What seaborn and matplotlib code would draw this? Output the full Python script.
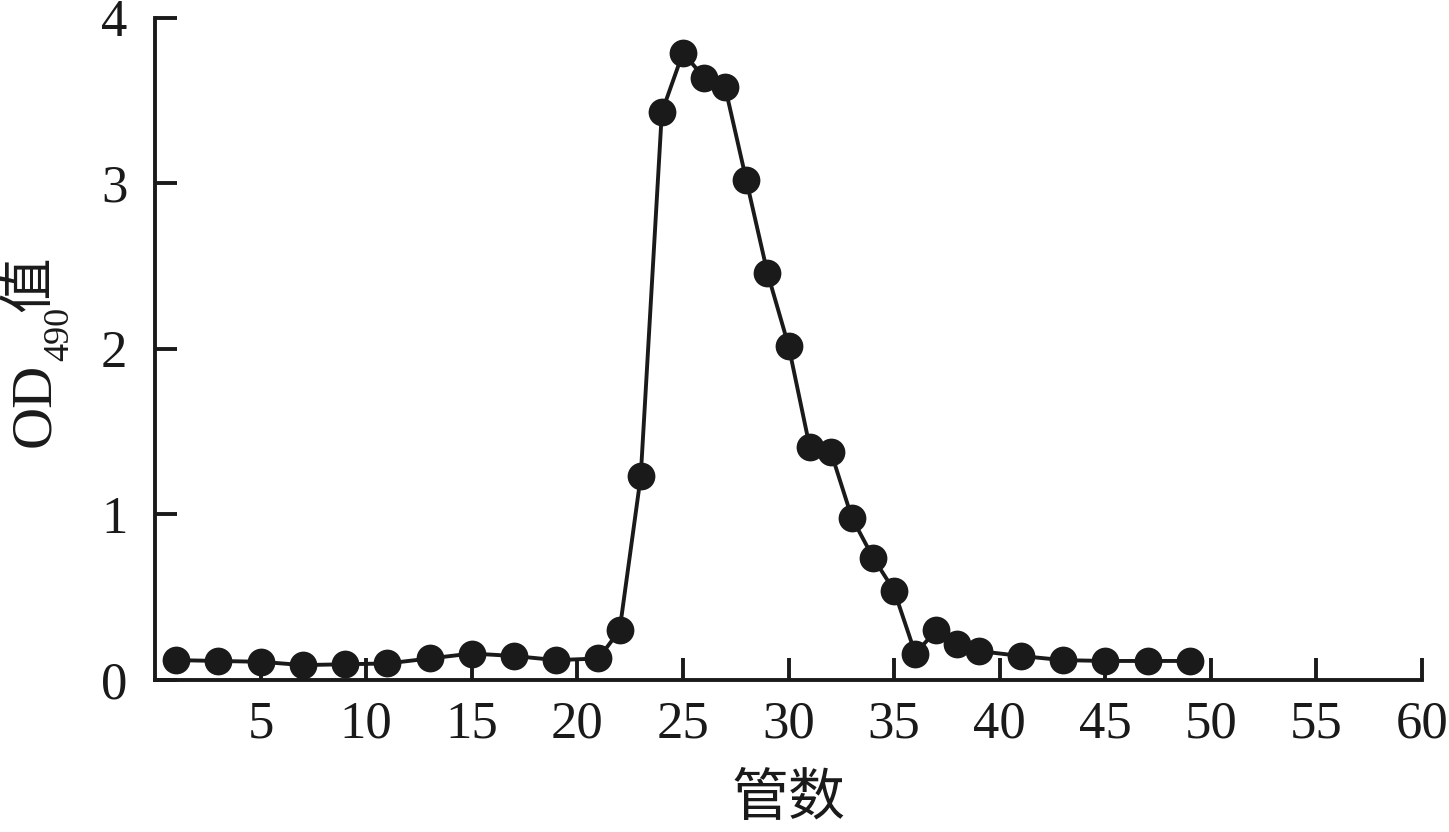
import matplotlib
matplotlib.use("Agg")
import matplotlib.pyplot as plt
import seaborn as sns
import pandas as pd

tube = [1, 3, 5, 7, 9, 11, 13, 15, 17, 19, 21, 22, 23, 24, 25, 26, 27, 28, 29, 30,
        31, 32, 33, 34, 35, 36, 37, 38, 39, 41, 43, 45, 47, 49]
od490 = [0.12, 0.115, 0.11, 0.09, 0.095, 0.10, 0.13, 0.16, 0.145, 0.12, 0.13, 0.30,
         1.23, 3.43, 3.79, 3.64, 3.58, 3.02, 2.46, 2.02, 1.41, 1.38, 0.98, 0.74, 0.54,
         0.16, 0.30, 0.22, 0.175, 0.145, 0.12, 0.115, 0.115, 0.115]
x_ticks = [5, 10, 15, 20, 25, 30, 35, 40, 45, 50, 55, 60]
y_ticks = [0, 1, 2, 3, 4]
x_label = "管数"
y_label_main = "OD"
y_label_sub = "490"
y_label_tail = "值"

sns.set_theme(style="ticks")
plt.rcParams['font.family'] = ['Liberation Serif', 'Noto Sans CJK SC', 'DejaVu Sans']

ink = '#1a1a1a'
W, H = 1449, 832
df = pd.DataFrame({"tube": tube, "od": od490})

fig = plt.figure(figsize=(W / 100, H / 100), dpi=100)
ax = fig.add_axes([0.107, 0.1827, 0.8744, 0.7957])
sns.lineplot(data=df, x="tube", y="od", ax=ax, color=ink, linewidth=2.8,
             marker='o', markersize=20, markeredgewidth=0, markerfacecolor=ink,
             clip_on=False)

ax.set_xlim(0, 60)
ax.set_ylim(0, 4)
ax.set_xticks(x_ticks)
ax.set_yticks(y_ticks)
ax.set_xticklabels([str(v) for v in x_ticks])
ax.set_yticklabels([str(v) for v in y_ticks])
ax.tick_params(axis='both', direction='in', length=16, width=2.8, color=ink,
               labelsize=38, labelcolor=ink)
ax.tick_params(axis='x', pad=15)
ax.tick_params(axis='y', pad=20)
for s in ['top', 'right']:
    ax.spines[s].set_visible(False)
for s in ['left', 'bottom']:
    ax.spines[s].set_linewidth(2.8)
    ax.spines[s].set_color(ink)

ax.set_xlabel(x_label, fontsize=41, color=ink,
              family=['Noto Sans CJK SC', 'DejaVu Sans'], labelpad=15)
ax.set_ylabel("")

# y label composed of pieces (OD, subscript 490, 值), rotated
fig.text(35 / W, 1 - 447 / H, y_label_main, rotation=90, fontsize=42, color=ink,
         ha='center', va='bottom', family=['Liberation Serif'])
fig.text(60 / W, 1 - 361 / H, y_label_sub, rotation=90, fontsize=26, color=ink,
         ha='center', va='bottom', family=['Liberation Serif'])
fig.text(29 / W, 1 - 312 / H, y_label_tail, rotation=90, fontsize=40, color=ink,
         ha='center', va='bottom', family=['Noto Sans CJK SC', 'DejaVu Sans'])

fig.savefig("out.png", dpi=100, facecolor='white')
